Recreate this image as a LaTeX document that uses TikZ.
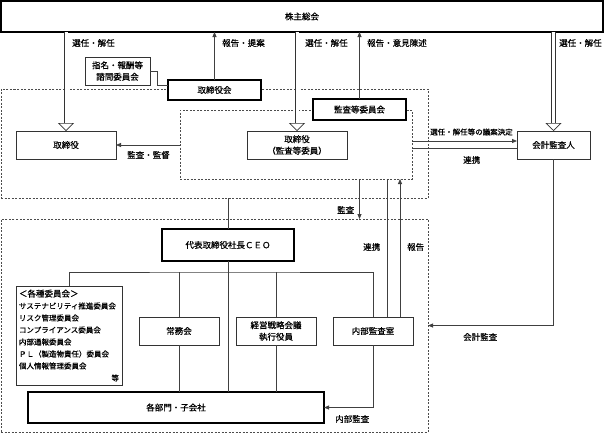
\documentclass[tikz,border=0pt]{standalone}
\usepackage{fontspec}
\setmainfont{Noto Sans CJK JP}[FakeBold=0.6]
\usetikzlibrary{arrows.meta,positioning}

\begin{document}
\begin{tikzpicture}[x=1pt,y=-1pt,>={Triangle[length=5pt,width=4pt]},
font=\fontsize{8.5}{11.5}\selectfont]
\tikzstyle{box}=[rectangle,draw=black!80,line width=0.8pt,fill=white,
inner sep=2pt,outer sep=0pt,align=center]
\tikzstyle{bold box}=[box,draw=black,line width=1.3pt]
\tikzstyle{area}=[rectangle,draw=black!70,line width=0.7pt,
dash pattern=on 2pt off 1.5pt,outer sep=0pt]
\tikzstyle{line}=[draw=black!75,line width=0.8pt]
\tikzstyle{dbl}=[draw=black!80,line width=0.6pt,double,double distance=3pt,
-{Triangle[open,length=8pt,width=16pt]}]
\tikzstyle{lbl}=[inner sep=0pt,anchor=west]

\useasboundingbox (0,0) rectangle (604,434);

% dashed areas
\node[area,minimum width=427pt,minimum height=109pt] at (214.5,143.5) (d1) {};
\node[area,minimum width=232pt,minimum height=69pt] at (296,144.5) (d2) {};
\node[area,minimum width=427pt,minimum height=213pt] at (214.5,325.5) (d3) {};

% boxes
\node[bold box,minimum width=602pt,minimum height=31pt] at (302,16.5) (0) {株主総会};
\node[box,minimum width=100pt,minimum height=28pt] at (66,145) (1) {取締役};
\node[bold box,minimum width=93pt,minimum height=20pt] at (214.5,90) (2) {取締役会};
\node[box,minimum width=65pt,minimum height=28pt] at (117.5,71) (3) {指名・報酬等\\諮問委員会};
\node[box,minimum width=100pt,minimum height=28pt] at (297,145) (4) {取締役\\（監査等委員）};
\node[bold box,minimum width=93pt,minimum height=21pt] at (359.5,109.5) (5) {監査等委員会};
\node[box,minimum width=73pt,minimum height=28pt] at (553.5,145) (6) {会計監査人};
\node[bold box,minimum width=132pt,minimum height=32pt] at (228,245) (7) {代表取締役社長ＣＥＯ};
\node[box,minimum width=106pt,minimum height=99pt,text width=100pt,align=left,
font=\fontsize{7.5}{12}\selectfont] at (69,335.5) (8)
{{\fontsize{8.5}{12}\selectfont ＜各種委員会＞}\\サステナビリティ推進委員会\\リスク管理委員会\\
コンプライアンス委員会\\内部通報委員会\\ＰＬ（製造物責任）委員会\\個人情報管理委員会\\
\mbox{}\hfill 等};
\node[box,minimum width=80pt,minimum height=28pt] at (179,331) (9) {常務会};
\node[box,minimum width=80pt,minimum height=28pt] at (276,331) (10) {経営戦略会議\\執行役員};
\node[box,minimum width=80pt,minimum height=28pt] at (373,331) (11) {内部監査室};
\node[bold box,minimum width=296pt,minimum height=31pt] at (176,407.5) (12) {各部門・子会社};

% shareholders
\draw[dbl] (1.north |- 0.south) -- (1.north);
\draw[dbl] (4.north |- 0.south) -- (4.north);
\draw[dbl] (6.north |- 0.south) -- (6.north);
\draw[line,->] (2.north) -- (2.north |- 0.south);
\draw[line,->] (5.north) -- (5.north |- 0.south);
\draw[line] (3.east) -- ++(7,0) |- ([yshift=5pt]2.west);

% audit
\draw[line,->] (1.east -| d2.west) -- (1.east);
\draw[line,->] ([yshift=3.5pt]d2.east) -- ([yshift=3.5pt]d2.east -| 6.west);
\draw[line] ([yshift=-3.5pt]6.west) -- ([yshift=-3.5pt]6.west -| d2.east);
\draw[line,->] (5.south |- d2.south) -- (5.south |- d3.north);
\draw[line] ([xshift=14pt]11.north) -- ([xshift=14pt]11.north |- d2.south);
\draw[line,->] ([xshift=27pt]11.north) -- ([xshift=27pt]11.north |- d2.south);
\draw[line,->] (6.south) |- (d3.east);

% execution
\coordinate (bus) at (228,272);
\draw[line] (7.north |- d1.south) -- (7.north);
\draw[line] (8.north) |- (bus) -| (11.north);
\draw[line] (9.north) -- (9.north |- bus);
\draw[line] (10.north) -- (10.north |- bus);
\draw[line] (7.south) -- (7.south |- 12.north);
\draw[line] (9.south) -- (9.south |- 12.north);
\draw[line] (10.south) -- (10.south |- 12.north);
\draw[line,->] (11.south) |- (12.east);

% labels
\node[lbl] at (72,43) (t1) {選任・解任};
\node[lbl] at (222,43) (t2) {報告・提案};
\node[lbl] at (305,43) (t3) {選任・解任};
\node[lbl] at (367,43) (t4) {報告・意見陳述};
\node[lbl] at (559,43) (t5) {選任・解任};
\node[lbl] at (127,155) (t6) {監査・監督};
\node[lbl,font=\fontsize{7.5}{9}\selectfont] at (430,132) (t7) {選任・解任等の議案決定};
\node[lbl] at (463,160) (t8) {連携};
\node[lbl] at (337,210) (t9) {監査};
\node[lbl] at (363,247) (t10) {連携};
\node[lbl] at (407,247) (t11) {報告};
\node[lbl] at (463,337) (t12) {会計監査};
\node[lbl] at (335,419) (t13) {内部監査};

\end{tikzpicture}
\end{document}
